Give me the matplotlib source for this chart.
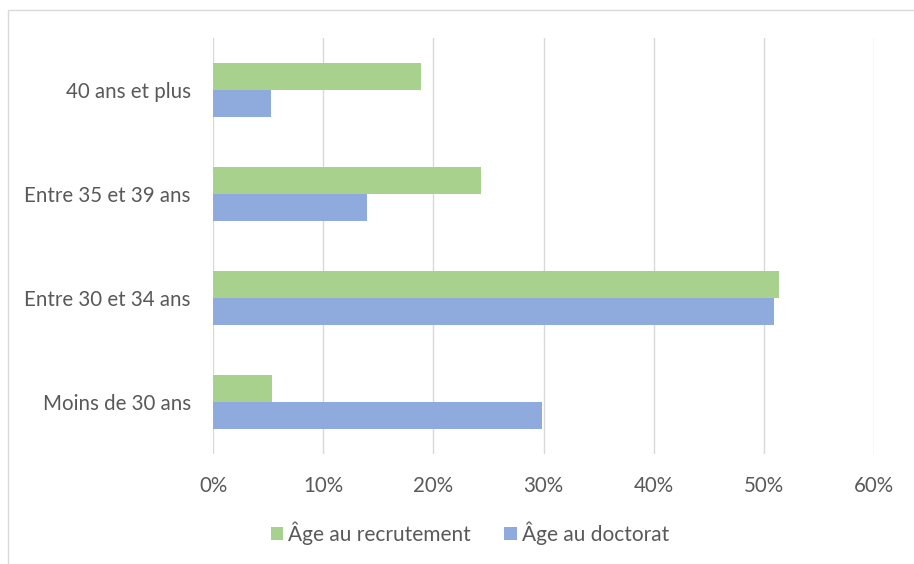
import matplotlib.pyplot as plt
from matplotlib.patches import Rectangle
from matplotlib.ticker import PercentFormatter
import numpy as np

categories = ["40 ans et plus", "Entre 35 et 39 ans", "Entre 30 et 34 ans", "Moins de 30 ans"]
recrutement = [18.9, 24.3, 51.4, 5.35]
doctorat = [5.3, 14.0, 50.9, 29.9]
series_names = ["Âge au recrutement", "Âge au doctorat"]
xticks = [0, 10, 20, 30, 40, 50, 60]

green = "#A9D18E"
blue = "#8FAADC"
txt = "#595959"

plt.rcParams['font.family'] = ['Lato', 'DejaVu Sans']

fig = plt.figure(figsize=(9.14, 5.64), dpi=100)
ax = fig.add_axes([213/914, 110/564, 661/914, 416/564])

y = np.arange(len(categories))
h = 0.263
ax.barh(y - h/2, recrutement, height=h, color=green, label=series_names[0], zorder=3)
ax.barh(y + h/2, doctorat, height=h, color=blue, label=series_names[1], zorder=3)

ax.set_ylim(len(categories) - 0.5, -0.5)
ax.set_xlim(0, 60)
ax.set_xticks(xticks)
ax.xaxis.set_major_formatter(PercentFormatter(decimals=0))
ax.set_yticks(y)
ax.set_yticklabels(categories)
ax.tick_params(axis='both', length=0, labelsize=14.8, colors=txt)
ax.tick_params(axis='x', pad=16)
ax.tick_params(axis='y', pad=16)
ax.grid(axis='x', color="#D9D9D9", linewidth=1, zorder=0)
for s in ax.spines.values():
    s.set_visible(False)

leg = fig.legend(loc='center', bbox_to_anchor=(470/914, 1 - 533/564), ncol=2, frameon=False,
                 handlelength=0.6, handleheight=0.6, handletextpad=0.25, columnspacing=1.6,
                 fontsize=15)
for t in leg.get_texts():
    t.set_color(txt)

# outer chart frame
fig.patches.append(Rectangle((8/914, -0.1), 1.0, 1.1 - 10/564, transform=fig.transFigure,
                             fill=False, edgecolor="#D9D9D9", linewidth=1))

fig.savefig("out.png", dpi=100)
